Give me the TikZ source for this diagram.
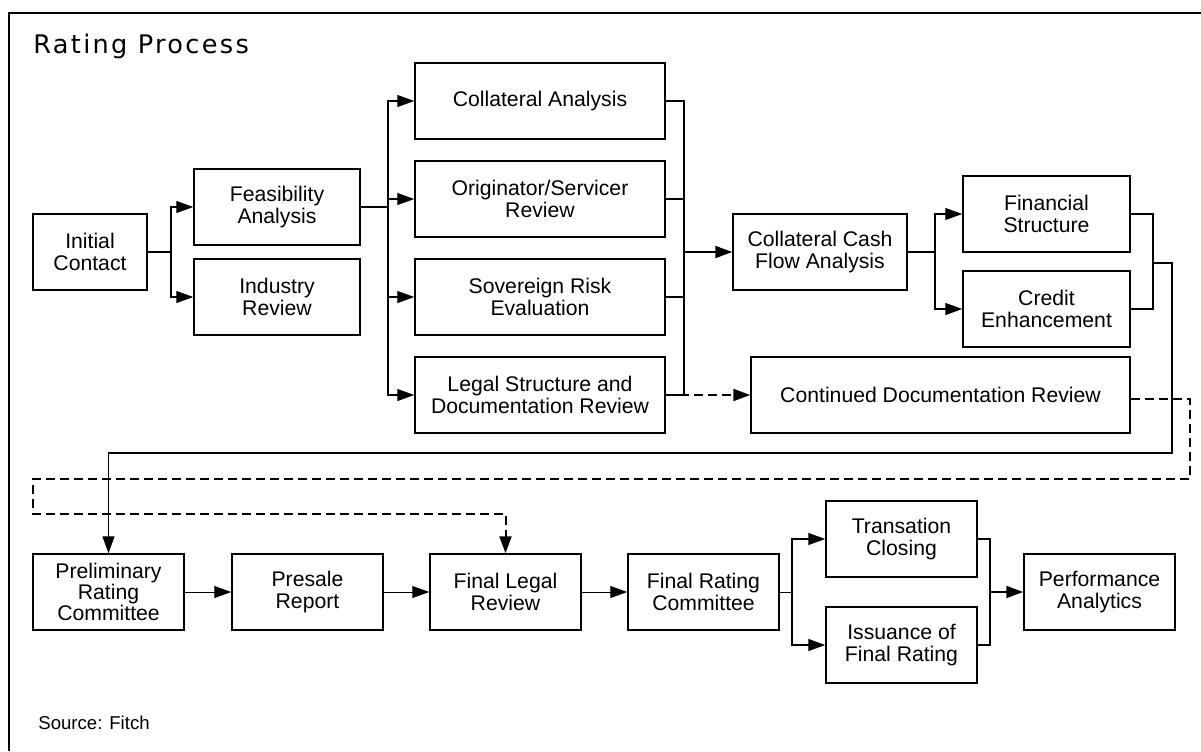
\documentclass[tikz,border=0pt]{standalone}
\usepackage{fontspec}
\setmainfont{Liberation Sans}
\newfontfamily\titlefont{DejaVu Sans}[LetterSpace=9]
\usetikzlibrary{arrows.meta}
\begin{document}
\begin{tikzpicture}[x=0.5pt,y=-0.5pt,
  box/.style={draw, line width=0.75pt, inner sep=0pt, minimum width=75.5pt, minimum height=38pt, align=center, font=\fontsize{10.6pt}{10.6pt}\selectfont},
  arr/.style={-{Triangle[length=8.5pt,width=6pt]}},
  trunk/.style={line width=0.9pt},
  branch/.style={line width=0.6pt},
  thinline/.style={line width=0.5pt},
  dashline/.style={line width=1pt, dash pattern=on 4.5pt off 2.5pt},
  frameline/.style={line width=1.2pt}
]
\useasboundingbox (0,0) rectangle (1201,751);
\draw[frameline] (9,751) -- (9,13) -- (1201,13);

\node[anchor=base west, inner sep=0pt, font=\titlefont\fontsize{12.8pt}{12.8pt}\selectfont] (title) at (33,53) {Rating Process};
\node[anchor=base west, inner sep=0pt, font=\fontsize{9.3pt}{9.3pt}\selectfont] (src) at (38,729) {Source: Fitch};

% top section
\node[box, minimum width=57pt] (ic) at (90,252) {Initial\\Contact};
\node[box, minimum width=83pt] (fa) at (277,207) {Feasibility\\Analysis};
\node[box, minimum width=83pt] (ir) at (277,297) {Industry\\Review};
\node[box, minimum width=125pt] (ca) at (540,101) {Collateral Analysis};
\node[box, minimum width=125pt] (os) at (540,199) {Originator/Servicer\\Review};
\node[box, minimum width=125pt] (sr) at (540,297) {Sovereign Risk\\Evaluation};
\node[box, minimum width=125pt] (ls) at (540,395) {Legal Structure and\\Documentation Review};
\node[box, minimum width=87pt] (ccf) at (820,252) {Collateral Cash\\Flow Analysis};
\node[box, minimum width=83.5pt] (fs) at (1046.5,214) {Financial\\Structure};
\node[box, minimum width=83.5pt] (ce) at (1046.5,309) {Credit\\Enhancement};
\node[box, minimum width=189.5pt] (cdr) at (940.5,395) {Continued Documentation Review};

% bottom section
\node[box] (prc) at (108.5,592) {Preliminary\\Rating\\Committee};
\node[box] (pr) at (307.5,592) {Presale\\Report};
\node[box] (flr) at (505.5,592) {Final Legal\\Review};
\node[box] (frc) at (703.5,592) {Final Rating\\Committee};
\node[box] (tc) at (901.5,539) {Transation\\Closing};
\node[box] (ifr) at (901.5,645) {Issuance of\\Final Rating};
\node[box] (pa) at (1099.5,592) {Performance\\Analytics};

% connectors top
\coordinate (s1) at (171,252);
\draw[trunk] (ic.east) -- (s1);
\draw[branch,arr] (s1) |- (fa.west);
\draw[branch,arr] (s1) |- (ir.west);

\coordinate (s2) at (388,207);
\draw[trunk] (fa.east) -- (s2);
\foreach \n in {ca,os,sr,ls} \draw[branch,arr] (s2) |- (\n.west);

\coordinate (c1) at (684,252);
\foreach \n in {ca,os,sr,ls} \draw[branch] (\n.east) -| (c1);
\draw[trunk,arr] (c1) -- (ccf.west);

\coordinate (s3) at (935,252);
\draw[trunk] (ccf.east) -- (s3);
\draw[branch,arr] (s3) |- (fs.west);
\draw[branch,arr] (s3) |- (ce.west);

\coordinate (c2) at (1153,263);
\draw[branch] (fs.east) -| (c2);
\draw[branch] (ce.east) -| (c2);
\coordinate (r1) at (1172,453);
\draw[branch,arr] (c2) -| (r1) -| (prc.north);

% dashed
\draw[dashline,arr] (ls.east) -- (cdr.west);
\coordinate (d1) at (1190,479);
\coordinate (d2) at (33,514);
\draw[dashline,arr] ([yshift=-2pt]cdr.east) -| (d1) -| (d2) -| (flr.north);

% connectors bottom
\draw[thinline,arr] (prc.east) -- (pr.west);
\draw[thinline,arr] (pr.east) -- (flr.west);
\draw[thinline,arr] (flr.east) -- (frc.west);
\coordinate (s4) at (792,592);
\draw[thinline] (frc.east) -- (s4);
\draw[branch,arr] (s4) |- (tc.west);
\draw[branch,arr] (s4) |- (ifr.west);
\coordinate (c3) at (990,592);
\draw[branch] (tc.east) -| (c3);
\draw[branch] (ifr.east) -| (c3);
\draw[trunk,arr] (c3) -- (pa.west);
\end{tikzpicture}
\end{document}
